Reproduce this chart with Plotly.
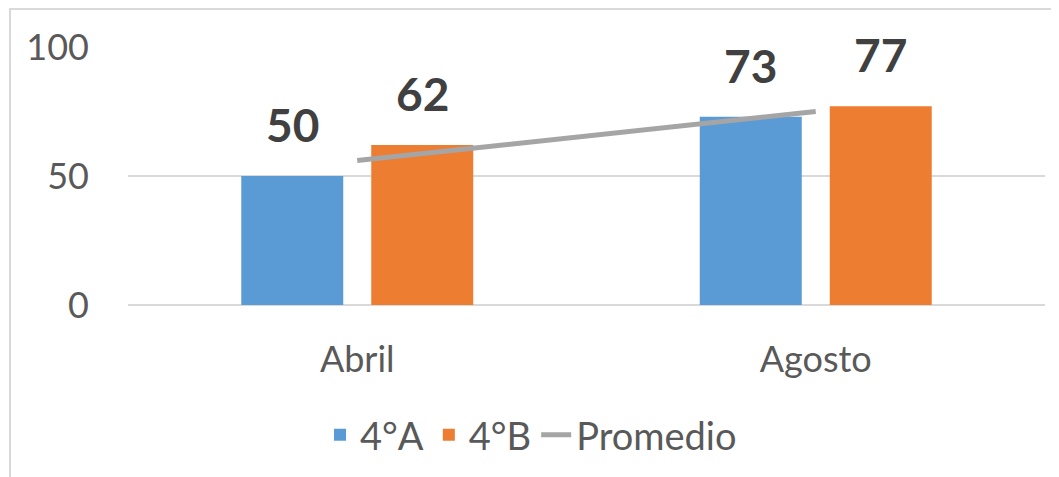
import plotly.graph_objs as go

categories = ['Abril', 'Agosto']
grupo_a = [50, 73]
grupo_b = [62, 77]
promedio = [56, 75]

FONT = 'Lato'
TEXT_GRAY = '#595959'
LABEL_GRAY = '#404040'


def _bar_trace(name, values, color):
    return go.Bar(
        name=name,
        x=categories,
        y=values,
        marker={'color': color, 'line': {'width': 0}},
    )


traces = [
    _bar_trace('4°A', grupo_a, '#5B9BD5'),
    _bar_trace('4°B', grupo_b, '#ED7D31'),
    go.Scatter(
        name='Promedio',
        x=categories,
        y=promedio,
        mode='lines',
        line={'color': '#A5A5A5', 'width': 5},
    ),
]

# data labels above each bar
annotations = []
for values, shift in [(grupo_a, -65), (grupo_b, 65)]:
    for cat, val in zip(categories, values):
        annotations.append(dict(
            x=cat, y=val, text='<b>{}</b>'.format(val),
            showarrow=False, xshift=shift, yshift=22, yanchor='bottom',
            font={'family': FONT, 'size': 46, 'color': LABEL_GRAY},
        ))

# page body adds an 8px offset, so the figure is 8px smaller each way
layout = go.Layout(
    width=1051,
    height=469,
    margin={'l': 120, 'r': 14, 't': 39, 'b': 172, 'autoexpand': False},
    paper_bgcolor='white',
    plot_bgcolor='white',
    barmode='group',
    bargap=0.433,
    bargroupgap=0.2154,
    font={'family': FONT, 'color': TEXT_GRAY},
    xaxis={
        'automargin': False,
        'showgrid': False,
        'showline': False,
        'ticks': '',
        'tickfont': {'size': 36, 'color': TEXT_GRAY},
        'ticklabelstandoff': 30,
    },
    yaxis={
        'automargin': False,
        'range': [0, 100],
        'tickvals': [0, 50, 100],
        'showgrid': True,
        'gridcolor': '#D9D9D9',
        'gridwidth': 2,
        'zeroline': True,
        'zerolinecolor': '#D9D9D9',
        'zerolinewidth': 2,
        'showline': False,
        'ticks': '',
        'tickfont': {'size': 36, 'color': TEXT_GRAY},
        'ticklabelstandoff': 38,
    },
    legend={
        'orientation': 'h',
        'x': 0.4395,
        'xanchor': 'center',
        'y': -0.504,
        'yanchor': 'middle',
        'font': {'size': 38, 'color': TEXT_GRAY},
        'itemsizing': 'constant',
    },
    annotations=annotations,
    shapes=[dict(
        type='rect', xref='paper', yref='paper',
        x0=-0.1287, x1=1.2, y0=-1.0, y1=1.147,
        line={'color': '#D9D9D9', 'width': 2},
        fillcolor='rgba(0,0,0,0)', layer='below',
    )],
)

fig = go.Figure(data=traces, layout=layout)
fig.write_html('out.html')
